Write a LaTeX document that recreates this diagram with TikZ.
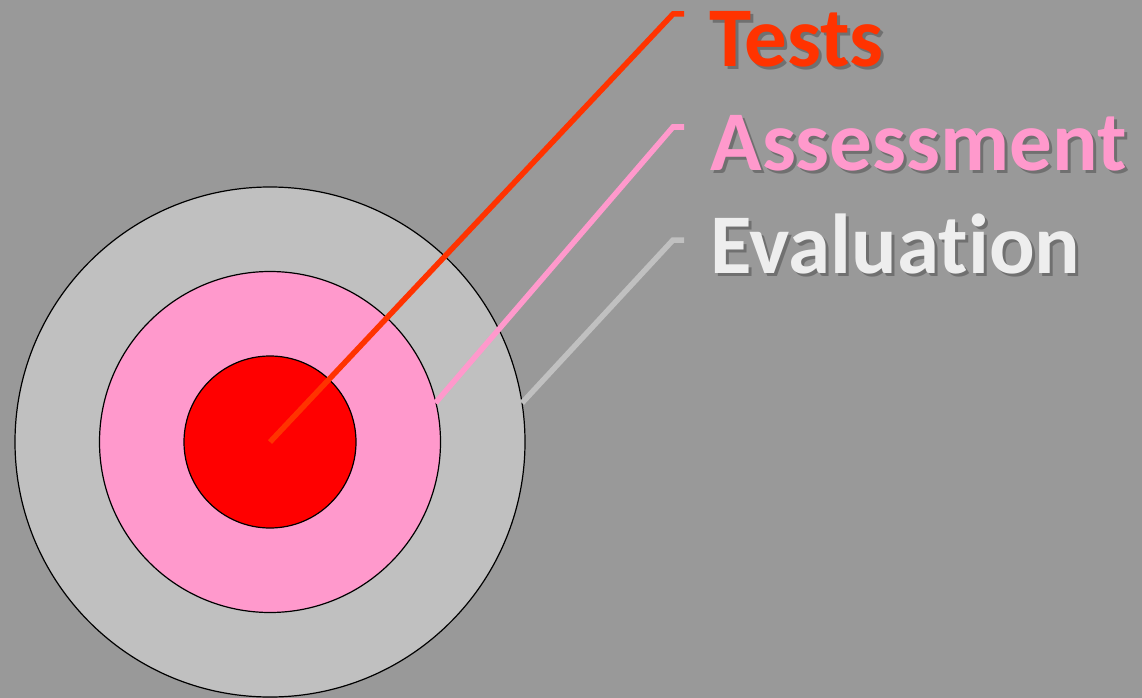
\documentclass[tikz,border=0pt]{standalone}
\usepackage{fontspec}
\setmainfont[Ligatures=NoCommon]{Carlito}
\usepackage{tikz}
\usetikzlibrary{calc}

\definecolor{bg}{HTML}{999999}
\definecolor{ring}{HTML}{C0C0C0}
\definecolor{pinky}{HTML}{FF99CC}
\definecolor{testred}{HTML}{FF3300}
\definecolor{evalwhite}{HTML}{EEEEEE}

\newcommand{\shadowlabel}[4]{%
  \node[anchor=base west,text=black!75,opacity=0.45,font=\fontsize{85}{92}\selectfont\bfseries] at ($(#2)+(3,3)$) {#4};
  \node[anchor=base west,text=#3,font=\fontsize{85}{92}\selectfont\bfseries] (#1) at (#2) {#4};}

\begin{document}
\begin{tikzpicture}[x=1pt,y=-1pt,
    ringline/.style={draw=black,line width=1.2pt},
    lead/.style={line width=5.5pt}]
      \useasboundingbox[fill=bg] (0,0) rectangle (1142,698);
      \coordinate (c) at (270,442);
      \draw[ringline,fill=ring] (c) circle (255);
      \draw[ringline,fill=pinky] (c) circle (170.5);
      \draw[ringline,fill=red] (c) circle (86);
      \coordinate (tc) at (673,14);
      \coordinate (ac) at (673,127);
      \coordinate (ec) at (673,240);
      \coordinate (as) at ($(c)+(-13.3:170)$);
      \coordinate (es) at ($(c)+(-8.8:255)$);
      \draw[lead,testred] (c) -- (tc) -- ++(11,0);
      \draw[lead,pinky] (as) -- (ac) -- ++(11,0);
      \draw[lead,ring] (es) -- (ec) -- ++(11,0);
      \shadowlabel{tests}{706,67}{testred}{Tests}
      \shadowlabel{assess}{707,170}{pinky}{Assessment}
      \shadowlabel{evalu}{707,273}{evalwhite}{Evaluation}
\end{tikzpicture}
\end{document}
